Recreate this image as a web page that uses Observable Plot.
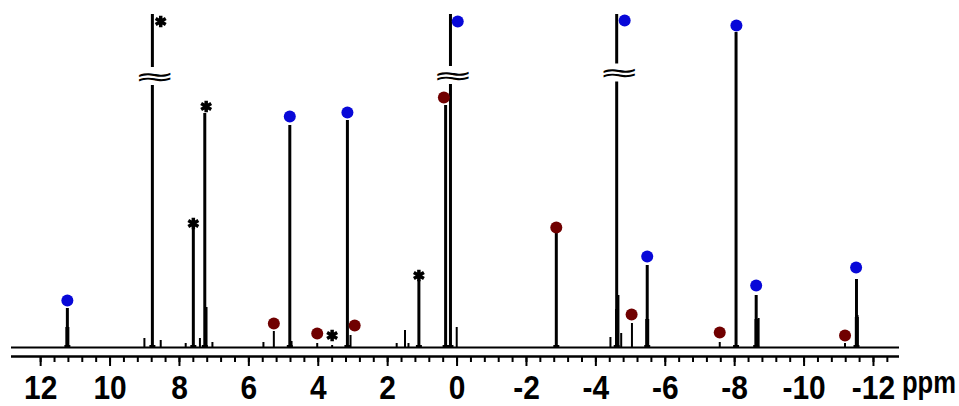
<!DOCTYPE html>
<html><head><meta charset="utf-8">
<script src="https://cdn.jsdelivr.net/npm/d3@7"></script>
<script src="https://cdn.jsdelivr.net/npm/@observablehq/plot@0.6"></script>
<style>body{margin:0;background:#fff}svg{display:block}</style>
</head><body>
<script>
// Main (sharp) signals: chemical shift (ppm) and intensity (a.u.)
const majorPpm    = [11.23, 7.60, 7.27, 4.82, 3.16, 1.10, 0.33, -2.86, -5.48, -8.04, -8.62, -11.51];
const majorHeight = [39, 118, 234, 222, 227, 67, 242, 114, 82, 315, 52, 68];
// Small signals / shoulders
const minorPpm    = [9.01, 8.54, 7.82, 7.41, 7.22, 7.05, 5.58, 5.28, 4.77, 4.03, 3.60, 3.07, 1.74, 1.50, 1.40, 0.01, -4.42, -4.65, -4.73, -5.04, -7.57, -8.69, -11.18, -11.54];
const minorHeight = [9, 7, 4, 9, 40, 5, 5, 16, 6, 4, 2, 12, 4, 17, 4, 20, 10, 52, 14, 24, 5, 29, 4, 32];
// Broadened lower parts of peaks
const broadPpm    = [11.23, -4.61, -5.48, -8.63, -11.52];
const broadHeight = [20, 38, 28, 28, 30];
// Off-scale peaks with axis break
const brokenPpm    = [8.78, 0.19, -4.60];
const brokenHeight = [333, 333, 333];
const brokenAt     = [271, 272, 274.5];
// Markers
const bluePpm    = [11.23, -0.02, 4.82, 3.16, -4.83, -5.48, -8.05, -8.62, -11.50];
const blueHeight = [47, 326, 231, 235, 327, 91, 322, 62, 80];
const redPpm     = [5.28, 4.03, 2.95, 0.38, -2.86, -5.03, -7.57, -11.18];
const redHeight  = [24, 14, 22, 250, 120, 33, 15, 12];
const starPpm    = [8.54, 7.60, 7.23, 3.60, 1.10];
const starHeight = [326, 124, 241, 12, 72];
// Axis
const tickLabels = [12, 10, 8, 6, 4, 2, 0, -2, -4, -6, -8, -10, -12];
const axisUnit = "ppm";

const zip = (xs, ys) => xs.map((x, i) => ({ppm: x, h: ys[i]}));
const major = zip(majorPpm, majorHeight);
const minor = zip(minorPpm, minorHeight);
const broad = zip(broadPpm, broadHeight);
const broken = brokenPpm.map((p, i) => ({ppm: p, h: brokenHeight[i], brk: brokenAt[i]}));
const blue = zip(bluePpm, blueHeight);
const red = zip(redPpm, redHeight);
const stars = zip(starPpm, starHeight);
const minorTicks = d3.range(-31, 31).map(k => +(k * 0.4).toFixed(2));

const svg = Plot.plot({
  width: 959, height: 406,
  marginLeft: 11, marginRight: 60, marginTop: 12, marginBottom: 50,
  style: {fontFamily: "'Liberation Sans', Arial, sans-serif", background: "white", overflow: "visible"},
  x: {domain: [12.84, -12.75], axis: null},
  y: {domain: [-9, 335], range: [356, 12], axis: null},
  marks: [
    Plot.ruleY([0], {stroke: "black", strokeWidth: 2}),
    Plot.ruleY([-9], {stroke: "black", strokeWidth: 2.5}),
    Plot.ruleX(minorTicks, {x: d => d, y1: -9, y2: -15, stroke: "black", strokeWidth: 2}),
    Plot.ruleX(tickLabels, {x: d => d, y1: -9, y2: -19, stroke: "black", strokeWidth: 2}),
    Plot.text(tickLabels, {x: d => d, y: -51.5, text: d => String(d), lineAnchor: "bottom", fontSize: 34, fontWeight: "bold", fill: "black"}),
    Plot.text([axisUnit], {x: -12.82, y: -45.5, text: d => d, textAnchor: "start", lineAnchor: "bottom", fontSize: 32, fontWeight: "bold", fill: "black"}),
    Plot.ruleX(major, {x: "ppm", y1: 0, y2: 2, stroke: "black", strokeWidth: 6}),
    Plot.ruleX(broad, {x: "ppm", y1: 0, y2: "h", stroke: "black", strokeWidth: 4}),
    Plot.ruleX(minor, {x: "ppm", y1: 0, y2: "h", stroke: "black", strokeWidth: 2}),
    Plot.ruleX(major, {x: "ppm", y1: 0, y2: "h", stroke: "black", strokeWidth: 3}),
    Plot.ruleX(broken, {x: "ppm", y1: 0, y2: 2, stroke: "black", strokeWidth: 6}),
    Plot.ruleX(broken, {x: "ppm", y1: 0, y2: d => d.brk - 9, stroke: "black", strokeWidth: 3}),
    Plot.ruleX(broken, {x: "ppm", y1: d => d.brk + 9, y2: "h", stroke: "black", strokeWidth: 3}),
    Plot.text(broken, {x: d => d.ppm - 0.07, y: "brk", text: () => "≈", fontSize: 50, fontFamily: "DejaVu Sans", lineAnchor: "middle", fill: "black"}),
    Plot.dot(blue, {x: "ppm", y: "h", r: 6, fill: "#0808d8"}),
    Plot.dot(red, {x: "ppm", y: "h", r: 6, fill: "#700000"}),
    Plot.dot(stars, {x: "ppm", y: "h", symbol: "asterisk", r: 5.5, stroke: "black", strokeWidth: 3.5})
  ]
});

svg.querySelectorAll("text").forEach(t => {
  const s = t.textContent;
  let sc = null;
  if (s === "≈") sc = "scale(1,0.5)";
  else if (s === "ppm") sc = "scale(0.8,1)";
  else if (/^-?\d+$/.test(s)) sc = "scale(0.88,1)";
  if (!sc) return;
  let tr = t.getAttribute("transform");
  if (!tr) {
    const x = t.getAttribute("x") || 0, y = t.getAttribute("y") || 0;
    t.removeAttribute("x"); t.removeAttribute("y");
    tr = `translate(${x},${y})`;
  }
  t.setAttribute("transform", tr + " " + sc);
});
document.body.appendChild(svg);
</script>
</body></html>
